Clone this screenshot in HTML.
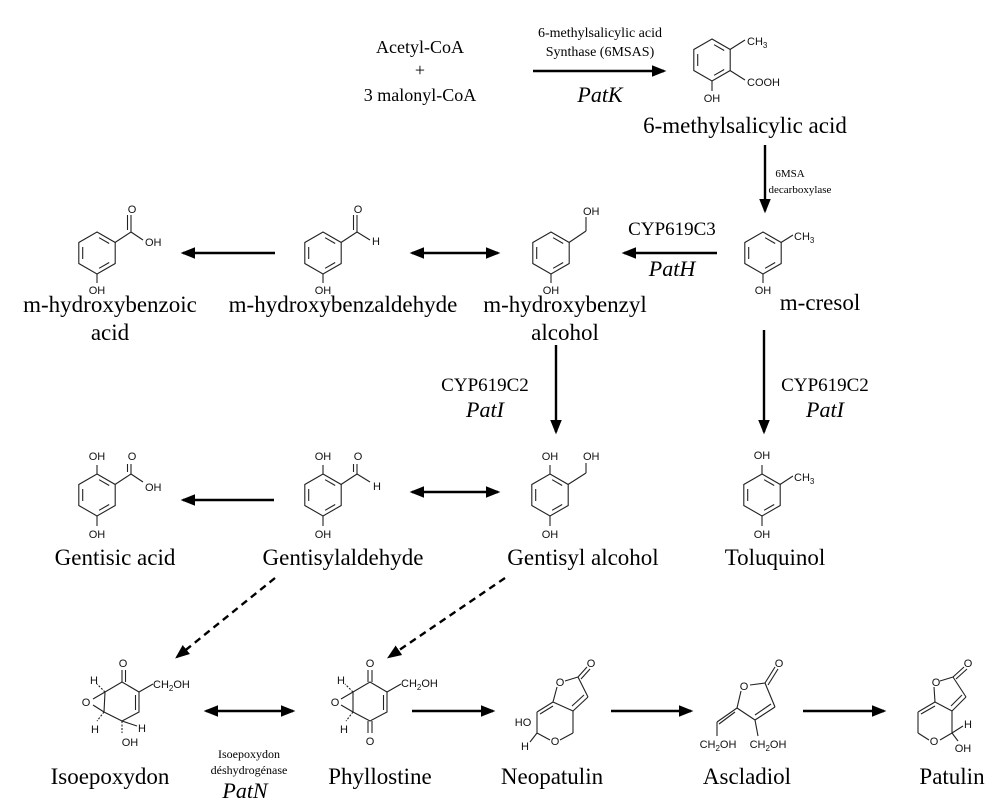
<!DOCTYPE html>
<html><head><meta charset="utf-8"><style>
html,body{margin:0;padding:0;background:#fff;}
svg{display:block;}
.l{font-family:"Liberation Serif",serif;fill:#000;}
.s{font-family:"Liberation Sans",sans-serif;font-size:11px;fill:#111;}
.b{stroke:#222;stroke-width:1.1;fill:none;}
.a{stroke:#000;stroke-width:2.4;fill:none;}
</style></head><body>
<svg width="1000" height="809" viewBox="0 0 1000 809" xmlns="http://www.w3.org/2000/svg">
<defs>
<marker id="ah" markerWidth="6" markerHeight="6" refX="5" refY="3" orient="auto" markerUnits="strokeWidth"><path d="M0,0.6 L6,3 L0,5.4 z" fill="#000"/></marker>
<marker id="at" markerWidth="6" markerHeight="6" refX="1" refY="3" orient="auto" markerUnits="strokeWidth"><path d="M6,0.6 L0,3 L6,5.4 z" fill="#000"/></marker>
<g id="ring">
<polygon class="b" points="0,-21 18.2,-10.5 18.2,10.5 0,21 -18.2,10.5 -18.2,-10.5"/>
<line class="b" x1="-14.3" y1="-6" x2="-14.3" y2="6"/>
<line class="b" x1="2.1" y1="-15.3" x2="12.2" y2="-9.5"/>
<line class="b" x1="12.2" y1="9.5" x2="2.1" y2="15.3"/>
</g>
</defs>

<!-- top -->
<text class="l" x="420" y="53" font-size="18" text-anchor="middle">Acetyl-CoA</text>
<text class="l" x="420" y="76" font-size="18" text-anchor="middle">+</text>
<text class="l" x="420" y="101" font-size="18" text-anchor="middle">3 malonyl-CoA</text>
<text class="l" x="600" y="37" font-size="14" text-anchor="middle">6-methylsalicylic acid</text>
<text class="l" x="600" y="56" font-size="14" text-anchor="middle">Synthase (6MSAS)</text>
<line class="a" x1="533" y1="71" x2="664" y2="71" marker-end="url(#ah)"/>
<text class="l" x="600" y="102" font-size="22" font-style="italic" text-anchor="middle">PatK</text>

<use href="#ring" x="712" y="60"/>
<line class="b" x1="730" y1="49.5" x2="745" y2="40"/><text class="s" x="747" y="45">CH<tspan font-size="8" dy="3">3</tspan></text>
<line class="b" x1="730" y1="70.5" x2="745" y2="80"/><text class="s" x="747" y="86">COOH</text>
<line class="b" x1="712" y1="81" x2="712" y2="91"/><text class="s" x="712" y="102" text-anchor="middle">OH</text>
<text class="l" x="745" y="133" font-size="23" text-anchor="middle">6-methylsalicylic acid</text>

<line class="a" x1="765" y1="145" x2="765" y2="211" marker-end="url(#ah)"/>
<text class="l" x="790" y="177" font-size="11" text-anchor="middle">6MSA</text>
<text class="l" x="800" y="193" font-size="11" text-anchor="middle">decarboxylase</text>

<!-- row 2 -->
<use href="#ring" x="97" y="253"/>
<line class="b" x1="115" y1="242.5" x2="131" y2="232"/>
<line class="b" x1="131" y1="232" x2="131" y2="215"/><line class="b" x1="127.5" y1="230" x2="127.5" y2="215"/>
<text class="s" x="132" y="213" text-anchor="middle">O</text>
<line class="b" x1="131" y1="232" x2="143" y2="240"/><text class="s" x="145" y="246">OH</text>
<line class="b" x1="97" y1="274" x2="97" y2="283"/><text class="s" x="97" y="294" text-anchor="middle">OH</text>
<text class="l" x="110" y="312" font-size="23" text-anchor="middle">m-hydroxybenzoic</text>
<text class="l" x="110" y="340" font-size="23" text-anchor="middle">acid</text>

<line class="a" x1="275" y1="253" x2="183" y2="253" marker-end="url(#ah)"/>

<use href="#ring" x="323" y="253"/>
<line class="b" x1="341" y1="242.5" x2="357" y2="232"/>
<line class="b" x1="357" y1="232" x2="357" y2="215"/><line class="b" x1="353.5" y1="230" x2="353.5" y2="215"/>
<text class="s" x="358" y="213" text-anchor="middle">O</text>
<line class="b" x1="357" y1="232" x2="370" y2="240"/><text class="s" x="372" y="245">H</text>
<line class="b" x1="323" y1="274" x2="323" y2="283"/><text class="s" x="323" y="294" text-anchor="middle">OH</text>
<text class="l" x="343" y="312" font-size="23" text-anchor="middle">m-hydroxybenzaldehyde</text>

<line class="a" x1="412" y1="253" x2="498" y2="253" marker-start="url(#at)" marker-end="url(#ah)"/>

<use href="#ring" x="551" y="253"/>
<line class="b" x1="569" y1="242.5" x2="586" y2="231"/><line class="b" x1="586" y1="231" x2="586" y2="217"/>
<text class="s" x="583" y="215">OH</text>
<line class="b" x1="551" y1="274" x2="551" y2="283"/><text class="s" x="551" y="294" text-anchor="middle">OH</text>
<text class="l" x="565" y="312" font-size="23" text-anchor="middle">m-hydroxybenzyl</text>
<text class="l" x="565" y="340" font-size="23" text-anchor="middle">alcohol</text>

<text class="l" x="672" y="235" font-size="19" text-anchor="middle">CYP619C3</text>
<line class="a" x1="717" y1="253" x2="624" y2="253" marker-end="url(#ah)"/>
<text class="l" x="672" y="276" font-size="22" font-style="italic" text-anchor="middle">PatH</text>

<use href="#ring" x="763" y="253"/>
<line class="b" x1="781" y1="242.5" x2="793" y2="235"/><text class="s" x="794" y="240">CH<tspan font-size="8" dy="3">3</tspan></text>
<line class="b" x1="763" y1="274" x2="763" y2="283"/><text class="s" x="763" y="294" text-anchor="middle">OH</text>
<text class="l" x="820" y="310" font-size="23" text-anchor="middle">m-cresol</text>

<!-- vertical arrows -->
<line class="a" x1="556" y1="345" x2="556" y2="432" marker-end="url(#ah)"/>
<text class="l" x="485" y="391" font-size="19" text-anchor="middle">CYP619C2</text>
<text class="l" x="485" y="417" font-size="22" font-style="italic" text-anchor="middle">PatI</text>
<line class="a" x1="764" y1="330" x2="764" y2="432" marker-end="url(#ah)"/>
<text class="l" x="825" y="391" font-size="19" text-anchor="middle">CYP619C2</text>
<text class="l" x="825" y="417" font-size="22" font-style="italic" text-anchor="middle">PatI</text>

<!-- row 3 -->
<use href="#ring" x="97" y="495"/>
<line class="b" x1="97" y1="474" x2="97" y2="465"/><text class="s" x="97" y="460" text-anchor="middle">OH</text>
<line class="b" x1="115" y1="484.5" x2="131" y2="474"/>
<line class="b" x1="131" y1="474" x2="131" y2="464"/><line class="b" x1="127.5" y1="472" x2="127.5" y2="464"/>
<text class="s" x="132" y="460" text-anchor="middle">O</text>
<line class="b" x1="131" y1="474" x2="143" y2="482"/><text class="s" x="145" y="491">OH</text>
<line class="b" x1="97" y1="516" x2="97" y2="526"/><text class="s" x="97" y="538" text-anchor="middle">OH</text>
<text class="l" x="115" y="565" font-size="23" text-anchor="middle">Gentisic acid</text>

<line class="a" x1="274" y1="500" x2="183" y2="500" marker-end="url(#ah)"/>

<use href="#ring" x="323" y="495"/>
<line class="b" x1="323" y1="474" x2="323" y2="465"/><text class="s" x="323" y="460" text-anchor="middle">OH</text>
<line class="b" x1="341" y1="484.5" x2="357" y2="474"/>
<line class="b" x1="357" y1="474" x2="357" y2="464"/><line class="b" x1="353.5" y1="472" x2="353.5" y2="464"/>
<text class="s" x="358" y="460" text-anchor="middle">O</text>
<line class="b" x1="357" y1="474" x2="370" y2="482"/><text class="s" x="373" y="490">H</text>
<line class="b" x1="323" y1="516" x2="323" y2="526"/><text class="s" x="323" y="538" text-anchor="middle">OH</text>
<text class="l" x="343" y="565" font-size="23" text-anchor="middle">Gentisylaldehyde</text>

<line class="a" x1="412" y1="492" x2="498" y2="492" marker-start="url(#at)" marker-end="url(#ah)"/>

<use href="#ring" x="550" y="495"/>
<line class="b" x1="550" y1="474" x2="550" y2="465"/><text class="s" x="550" y="460" text-anchor="middle">OH</text>
<line class="b" x1="568" y1="484.5" x2="586" y2="473"/><line class="b" x1="586" y1="473" x2="586" y2="463"/>
<text class="s" x="583" y="460">OH</text>
<line class="b" x1="550" y1="516" x2="550" y2="526"/><text class="s" x="550" y="538" text-anchor="middle">OH</text>
<text class="l" x="583" y="565" font-size="23" text-anchor="middle">Gentisyl alcohol</text>

<use href="#ring" x="762" y="495"/>
<line class="b" x1="762" y1="474" x2="762" y2="465"/><text class="s" x="762" y="459" text-anchor="middle">OH</text>
<line class="b" x1="780" y1="484.5" x2="793" y2="476"/><text class="s" x="794" y="481">CH<tspan font-size="8" dy="3">3</tspan></text>
<line class="b" x1="762" y1="516" x2="762" y2="526"/><text class="s" x="762" y="538" text-anchor="middle">OH</text>
<text class="l" x="775" y="565" font-size="23" text-anchor="middle">Toluquinol</text>

<!-- dashed -->
<line class="a" x1="275" y1="578" x2="177" y2="657" stroke-dasharray="7,5" marker-end="url(#ah)"/>
<line class="a" x1="505" y1="578" x2="389" y2="657" stroke-dasharray="7,5" marker-end="url(#ah)"/>

<!-- Isoepoxydon -->
<g>
<polyline class="b" points="105,692 122,682 139,692 139,712 122,721 104,712 105,692"/>
<line class="b" x1="135.5" y1="695" x2="135.5" y2="710"/>
<line class="b" x1="122" y1="682" x2="122" y2="670"/><line class="b" x1="125.5" y1="682" x2="125.5" y2="670"/>
<text class="s" x="123" y="667" text-anchor="middle">O</text>
<line class="b" x1="139" y1="692" x2="153" y2="684"/><text class="s" x="153" y="688">CH<tspan font-size="8" dy="3">2</tspan><tspan dy="-3">OH</tspan></text>
<line class="b" x1="105" y1="692" x2="93" y2="699"/><line class="b" x1="104" y1="712" x2="93" y2="705"/>
<text class="s" x="86" y="706" text-anchor="middle">O</text>
<line class="b" x1="105" y1="692" x2="97" y2="684" stroke-dasharray="2,1.5"/><text class="s" x="94" y="684" text-anchor="middle">H</text>
<line class="b" x1="104" y1="712" x2="97" y2="721" stroke-dasharray="2,1.5"/><text class="s" x="95" y="733" text-anchor="middle">H</text>
<line class="b" x1="122" y1="721" x2="137" y2="726"/><text class="s" x="142" y="732" text-anchor="middle">H</text>
<line class="b" x1="122" y1="721" x2="122" y2="733" stroke-dasharray="2,1.5"/><text class="s" x="130" y="746" text-anchor="middle">OH</text>
</g>
<text class="l" x="110" y="784" font-size="23" text-anchor="middle">Isoepoxydon</text>

<line class="a" x1="206" y1="711" x2="293" y2="711" marker-start="url(#at)" marker-end="url(#ah)"/>
<text class="l" x="249" y="758" font-size="12" text-anchor="middle">Isoepoxydon</text>
<text class="l" x="249" y="774" font-size="12" text-anchor="middle">déshydrogénase</text>
<text class="l" x="245" y="798" font-size="22" font-style="italic" text-anchor="middle">PatN</text>

<!-- Phyllostine -->
<g>
<polyline class="b" points="353,692 370,682 387,692 387,712 370,721 353,712 353,692"/>
<line class="b" x1="383.5" y1="695" x2="383.5" y2="710"/>
<line class="b" x1="368" y1="682" x2="368" y2="670"/><line class="b" x1="372" y1="682" x2="372" y2="670"/>
<text class="s" x="370" y="667" text-anchor="middle">O</text>
<line class="b" x1="368" y1="721" x2="368" y2="733"/><line class="b" x1="372" y1="721" x2="372" y2="733"/>
<text class="s" x="370" y="745" text-anchor="middle">O</text>
<line class="b" x1="387" y1="692" x2="401" y2="684"/><text class="s" x="401" y="687">CH<tspan font-size="8" dy="3">2</tspan><tspan dy="-3">OH</tspan></text>
<line class="b" x1="353" y1="692" x2="341" y2="699"/><line class="b" x1="353" y1="712" x2="341" y2="705"/>
<text class="s" x="335" y="706" text-anchor="middle">O</text>
<line class="b" x1="353" y1="692" x2="345" y2="684" stroke-dasharray="2,1.5"/><text class="s" x="341" y="684" text-anchor="middle">H</text>
<line class="b" x1="353" y1="712" x2="346" y2="721" stroke-dasharray="2,1.5"/><text class="s" x="344" y="733" text-anchor="middle">H</text>
</g>
<text class="l" x="380" y="784" font-size="23" text-anchor="middle">Phyllostine</text>

<line class="a" x1="412" y1="711" x2="493" y2="711" marker-end="url(#ah)"/>

<!-- Neopatulin -->
<g>
<line class="b" x1="565" y1="681" x2="578" y2="677"/>
<line class="b" x1="553" y1="702" x2="557" y2="687"/>
<line class="b" x1="578" y1="677" x2="588" y2="697"/>
<line class="b" x1="578" y1="677" x2="587" y2="667"/><line class="b" x1="581" y1="679" x2="590" y2="669"/>
<text class="s" x="591" y="667" text-anchor="middle">O</text>
<text class="s" x="560" y="686" text-anchor="middle">O</text>
<line class="b" x1="588" y1="697" x2="573" y2="711"/><line class="b" x1="584" y1="695" x2="572" y2="706"/>
<line class="b" x1="573" y1="711" x2="553" y2="702"/>
<line class="b" x1="553" y1="702" x2="537" y2="712"/><line class="b" x1="553" y1="706" x2="540" y2="714"/>
<line class="b" x1="537" y1="712" x2="537" y2="733"/>
<line class="b" x1="537" y1="733" x2="550" y2="740"/>
<text class="s" x="555" y="745" text-anchor="middle">O</text>
<line class="b" x1="560" y1="740" x2="573" y2="733"/>
<line class="b" x1="573" y1="733" x2="573" y2="711"/>
<line class="b" x1="537" y1="733" x2="530" y2="742"/>
<text class="s" x="523" y="726" text-anchor="middle">HO</text>
<text class="s" x="525" y="750" text-anchor="middle">H</text>
</g>
<text class="l" x="552" y="784" font-size="23" text-anchor="middle">Neopatulin</text>

<line class="a" x1="611" y1="711" x2="691" y2="711" marker-end="url(#ah)"/>

<!-- Ascladiol -->
<g>
<text class="s" x="744" y="690" text-anchor="middle">O</text>
<line class="b" x1="750" y1="685" x2="765" y2="683"/>
<line class="b" x1="765" y1="683" x2="775" y2="667"/><line class="b" x1="768" y1="685" x2="778" y2="669"/>
<text class="s" x="779" y="667" text-anchor="middle">O</text>
<line class="b" x1="765" y1="683" x2="775" y2="707"/>
<line class="b" x1="775" y1="707" x2="755" y2="720"/><line class="b" x1="771" y1="704" x2="755" y2="715"/>
<line class="b" x1="755" y1="720" x2="737" y2="708"/>
<line class="b" x1="737" y1="708" x2="741" y2="691"/>
<line class="b" x1="737" y1="708" x2="717" y2="722"/><line class="b" x1="735" y1="712" x2="719" y2="724"/>
<line class="b" x1="717" y1="722" x2="717" y2="736"/>
<line class="b" x1="755" y1="720" x2="758" y2="736"/>
<text class="s" x="718" y="748" text-anchor="middle">CH<tspan font-size="8" dy="3">2</tspan><tspan dy="-3">OH</tspan></text>
<text class="s" x="768" y="748" text-anchor="middle">CH<tspan font-size="8" dy="3">2</tspan><tspan dy="-3">OH</tspan></text>
</g>
<text class="l" x="747" y="784" font-size="23" text-anchor="middle">Ascladiol</text>

<line class="a" x1="803" y1="711" x2="884" y2="711" marker-end="url(#ah)"/>

<!-- Patulin -->
<g>
<line class="b" x1="940" y1="681" x2="953" y2="677"/>
<line class="b" x1="935" y1="702" x2="934" y2="687"/>
<line class="b" x1="953" y1="677" x2="966" y2="697"/>
<line class="b" x1="953" y1="677" x2="964" y2="667"/><line class="b" x1="956" y1="679" x2="967" y2="669"/>
<text class="s" x="968" y="667" text-anchor="middle">O</text>
<text class="s" x="936" y="686" text-anchor="middle">O</text>
<line class="b" x1="966" y1="697" x2="952" y2="711"/><line class="b" x1="962" y1="695" x2="951" y2="706"/>
<line class="b" x1="952" y1="711" x2="935" y2="702"/>
<line class="b" x1="935" y1="702" x2="918" y2="712"/><line class="b" x1="935" y1="706" x2="921" y2="714"/>
<line class="b" x1="918" y1="712" x2="918" y2="733"/>
<line class="b" x1="918" y1="733" x2="929" y2="740"/>
<text class="s" x="934" y="745" text-anchor="middle">O</text>
<line class="b" x1="940" y1="740" x2="952" y2="733"/>
<line class="b" x1="952" y1="733" x2="952" y2="711"/>
<line class="b" x1="952" y1="733" x2="963" y2="726"/><text class="s" x="968" y="728" text-anchor="middle">H</text>
<line class="b" x1="952" y1="733" x2="958" y2="741"/><text class="s" x="963" y="752" text-anchor="middle">OH</text>
</g>
<text class="l" x="952" y="784" font-size="23" text-anchor="middle">Patulin</text>
</svg>
</body></html>
